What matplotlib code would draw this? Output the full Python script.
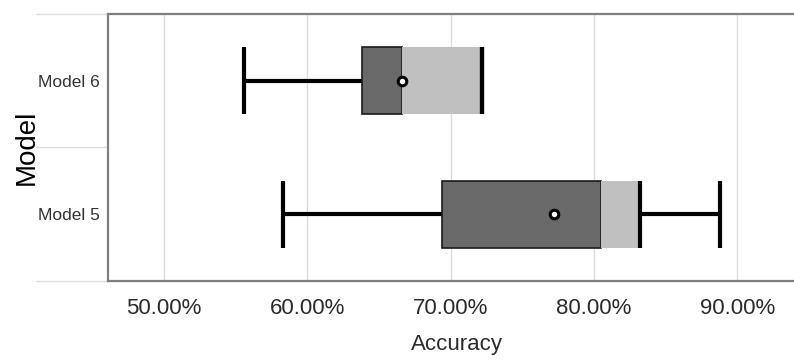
import numpy as np
import matplotlib.pyplot as plt
from matplotlib.ticker import FixedLocator, PercentFormatter

# box statistics (accuracy in %)
models = ['Model 5', 'Model 6']
whisker_lo = [58.3, 55.6]
q1 = [69.4, 63.8]
median = [80.5, 66.6]
q3 = [83.2, 72.2]
whisker_hi = [88.8, 72.2]
mean = [77.2, 66.6]
xticks = [50, 60, 70, 80, 90]

sans = ['Liberation Sans', 'DejaVu Sans']

#-----------------------------------------------------------------------------------------

fig = plt.figure(figsize=(7.94, 3.61), dpi=100)
ax = fig.add_axes([0.136, 0.222, 0.864, 0.739])

y = np.arange(len(models))
h = 0.5

for i in range(len(models)):
    ax.plot([whisker_lo[i], q1[i]], [y[i], y[i]], color='black', lw=3, zorder=2, solid_capstyle='butt')
    ax.plot([q3[i], whisker_hi[i]], [y[i], y[i]], color='black', lw=3, zorder=2, solid_capstyle='butt')
    ax.vlines([whisker_lo[i], whisker_hi[i]], y[i] - h / 2, y[i] + h / 2, color='black', lw=3, zorder=4)

ax.barh(y, np.array(median) - np.array(q1), left=q1, height=h, color='#696969',
        edgecolor='#1a1a1a', lw=1.2, zorder=3)
ax.barh(y, np.array(q3) - np.array(median), left=median, height=h, color='#c0c0c0',
        edgecolor='none', zorder=3)
ax.vlines(q3, y - h / 2, y + h / 2, color='black', lw=3, zorder=4)
ax.scatter(mean, y, s=38, facecolor='white', edgecolor='black', lw=2.2, zorder=5)

ax.set_xlim(46.09, 93.96)
ax.set_ylim(-0.5, 1.5)

ax.xaxis.set_major_locator(FixedLocator(xticks))
ax.xaxis.set_major_formatter(PercentFormatter(decimals=2))
ax.grid(axis='x', color='#dcdcdc', lw=1, zorder=0)
ax.tick_params(axis='x', length=0, pad=12, labelsize=16, labelcolor='#2b2b2b')
for lab in ax.get_xticklabels():
    lab.set_family(sans)

ax.set_yticks(y)
ax.set_yticklabels(models, family=sans, fontsize=12.5, color='#333333')
ax.tick_params(axis='y', which='major', length=0, pad=6)
ax.yaxis.set_minor_locator(FixedLocator([-0.5, 0.5, 1.5]))
ax.tick_params(axis='y', which='minor', length=52, width=1, color='#dcdcdc')

for side in ['left', 'top', 'bottom']:
    ax.spines[side].set_color('#7f7f7f')
    ax.spines[side].set_linewidth(1.6)
ax.spines['right'].set_visible(False)

ax.set_xlabel('Accuracy', family=sans, fontsize=16, color='#2b2b2b')
ax.xaxis.set_label_coords(0.509, -0.2)
ax.set_ylabel('Model', family=sans, fontsize=20, color='black')
ax.yaxis.set_label_coords(-0.1, 0.5)

fig.savefig('out.png', dpi=100)
